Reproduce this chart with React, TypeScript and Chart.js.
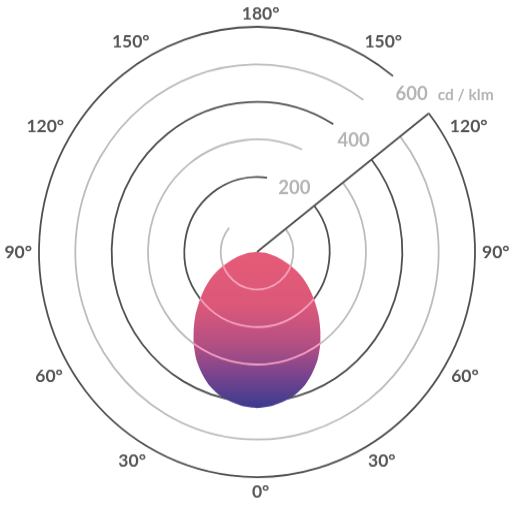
import { useEffect, useRef } from 'react';
import { Chart, registerables } from 'chart.js';

Chart.register(...registerables);

// Angles of the sampled intensity curve (degrees, 0 = straight down)
const angleCategories = [
  0, 5, 10, 15, 20, 25, 30, 35, 40, 45, 50, 55, 60, 65, 70, 75, 80, 85,
  90, 95, 100, 105, 110, 115, 120, 125, 130, 135, 140, 145, 150, 155, 160, 165, 170, 175,
  180, 185, 190, 195, 200, 205, 210, 215, 220, 225, 230, 235, 240, 245, 250, 255, 260, 265,
  270, 275, 280, 285, 290, 295, 300, 305, 310, 315, 320, 325, 330, 335, 340, 345, 350, 355,
];

// Luminous intensity (cd/klm)
const intensityValues = [
  416, 413, 406, 396, 380, 358, 333, 303, 271, 240, 208, 179, 151, 121, 90, 63, 39, 18,
  0, 0, 0, 0, 0, 0, 0, 0, 0, 0, 0, 0, 0, 0, 0, 0, 0, 0,
  0, 0, 0, 0, 0, 0, 0, 0, 0, 0, 0, 0, 0, 0, 0, 0, 0, 0,
  0, 18, 39, 63, 90, 121, 151, 179, 208, 240, 271, 303, 333, 358, 380, 396, 406, 413,
];

const scaleMax = 600;
const ringValues = [100, 200, 300, 400, 500, 600];
const darkRingValues = [200, 400, 600];
const overlayRingValues = [100, 200, 300];
const scaleLabelValues = [200, 400, 600];
const unitText = 'cd / klm';
const angleTickDegrees = [0, 30, 60, 90, 120, 150, 180, 210, 240, 270, 300, 330];
const angleTickLabels = ['0°', '30°', '60°', '90°', '120°', '150°', '180°', '150°', '120°', '90°', '60°', '30°'];

const FONT = 'Lato, "Open Sans", sans-serif';
const toRad = (d: number) => (d * Math.PI) / 180;
const WEDGE_FROM_TOP = 52; // clockwise from top, degrees

function ringGap(rr: number, R: number) {
  const d = 0.2317 * R;
  if (rr > d * 1.05) return Math.asin(d / rr);
  return toRad(102);
}

function eggGradient(chart: any) {
  const r = chart.scales && chart.scales.r;
  if (!r || !isFinite(r.yCenter)) return '#d95a7c';
  const top = r.yCenter;
  const bottom = r.yCenter + r.getDistanceFromCenterForValue(Math.max(...intensityValues));
  const g = chart.ctx.createLinearGradient(0, top, 0, bottom);
  g.addColorStop(0, '#e65b77');
  g.addColorStop(0.35, '#db5879');
  g.addColorStop(0.6, '#b24f84');
  g.addColorStop(0.8, '#76448f');
  g.addColorStop(1, '#3b3b8e');
  return g;
}

const polarDecor = {
  id: 'polarDecor',
  beforeDatasetsDraw(chart: any) {
    const r = chart.scales.r;
    const ctx: CanvasRenderingContext2D = chart.ctx;
    const cx = r.xCenter;
    const cy = r.yCenter;
    const R = r.drawingArea;
    const wedge = toRad(WEDGE_FROM_TOP - 90);
    ctx.save();
    ctx.lineCap = 'butt';
    ringValues.forEach((v) => {
      const rr = r.getDistanceFromCenterForValue(v);
      const gap = ringGap(rr, R);
      ctx.beginPath();
      ctx.arc(cx, cy, rr, wedge, wedge + Math.PI * 2 - gap, false);
      ctx.strokeStyle = darkRingValues.includes(v) ? '#505050' : '#bcbcbc';
      ctx.lineWidth = 1.8;
      ctx.stroke();
    });
    // wedge line
    ctx.beginPath();
    ctx.moveTo(cx, cy);
    ctx.lineTo(cx + R * Math.cos(wedge), cy + R * Math.sin(wedge));
    ctx.strokeStyle = '#505050';
    ctx.lineWidth = 1.8;
    ctx.stroke();

    // value labels
    ctx.fillStyle = '#b4b4b4';
    scaleLabelValues.forEach((v) => {
      const rr = r.getDistanceFromCenterForValue(v);
      const a = toRad(WEDGE_FROM_TOP - 90) - Math.asin((0.1193 * R) / rr);
      const x = cx + rr * Math.cos(a);
      const y = cy + rr * Math.sin(a);
      ctx.font = `bold 18.5px ${FONT}`;
      const txt = String(v);
      const w = ctx.measureText(txt).width;
      const cap = 0.72 * 18.5;
      ctx.textAlign = 'center';
      ctx.textBaseline = 'alphabetic';
      ctx.fillText(txt, x, y + cap / 2);
      if (v === scaleMax) {
        ctx.font = `bold 15.5px ${FONT}`;
        ctx.textAlign = 'left';
        ctx.fillText(unitText, x + w / 2 + 10, y + cap / 2);
      }
    });

    // angle labels
    ctx.fillStyle = '#555555';
    const size = 17.5;
    ctx.font = `bold ${size}px ${FONT}`;
    const cap = 0.72 * size;
    angleTickDegrees.forEach((deg, i) => {
      const txt = angleTickLabels[i];
      const w = ctx.measureText(txt).width;
      const numW = ctx.measureText(txt.replace('°', '')).width;
      let phi = toRad(90 + deg);
      // nudge labels near the vertical axis slightly outward
      const s = Math.sin(toRad(deg));
      if (Math.abs(s) > 0.2 && Math.abs(s) < 0.6) {
        const towardHorizontal = Math.cos(toRad(deg)) > 0 ? 1 : -1;
        phi += toRad(1.7) * (s > 0 ? towardHorizontal : -towardHorizontal);
      }
      const dx = Math.cos(phi);
      const dy = Math.sin(phi);
      const dist = R + 7 + Math.abs(dx) * (w / 2) + Math.abs(dy) * (cap / 2);
      let x = cx + dist * dx;
      const y = cy + dist * dy;
      if (Math.abs(dx) < 0.01) x += (w - numW) / 2;
      ctx.textAlign = 'center';
      ctx.textBaseline = 'alphabetic';
      ctx.fillText(txt, x, y + cap / 2);
    });
    ctx.restore();
  },
  afterDatasetsDraw(chart: any) {
    const meta = chart.getDatasetMeta(0);
    const line: any = meta && meta.dataset;
    if (!line) return;
    const r = chart.scales.r;
    const ctx: CanvasRenderingContext2D = chart.ctx;
    const R = r.drawingArea;
    const wedge = toRad(WEDGE_FROM_TOP - 90);
    ctx.save();
    ctx.beginPath();
    line.path(ctx);
    ctx.closePath();
    ctx.clip();
    ctx.strokeStyle = '#f6a0c0';
    ctx.lineWidth = 1.8;
    overlayRingValues.forEach((v) => {
      const rr = r.getDistanceFromCenterForValue(v);
      ctx.beginPath();
      ctx.arc(r.xCenter, r.yCenter, rr, wedge, wedge + Math.PI * 2 - ringGap(rr, R), false);
      ctx.stroke();
    });
    ctx.restore();
  },
};

export default function App() {
  const ref = useRef<HTMLCanvasElement>(null);
  useEffect(() => {
    const canvas = ref.current;
    if (!canvas) return;
    const chart = new Chart(canvas, {
      type: 'radar',
      data: {
        labels: angleCategories.map((a) => `${a}°`),
        datasets: [
          {
            data: intensityValues,
            fill: 'origin',
            backgroundColor: (c: any) => eggGradient(c.chart),
            borderWidth: 0,
            borderColor: 'rgba(0,0,0,0)',
            pointRadius: 0,
            pointHoverRadius: 0,
            tension: 0.25,
          } as any,
        ],
      },
      options: {
        responsive: false,
        animation: false,
        devicePixelRatio: 1,
        events: [],
        layout: { padding: { left: 39, right: 40, top: 26, bottom: 30 } },
        plugins: { legend: { display: false }, tooltip: { enabled: false } },
        scales: {
          r: {
            min: 0,
            max: scaleMax,
            startAngle: 180,
            grid: { display: false, circular: true },
            angleLines: { display: false },
            ticks: { display: false },
            pointLabels: { display: false },
          },
        },
      } as any,
      plugins: [polarDecor],
    });
    return () => chart.destroy();
  }, []);
  return (
    <div style={{ position: 'absolute', left: 0, top: 0, width: 515, height: 508, background: '#fff' }}>
      <canvas ref={ref} width={515} height={492} style={{ width: '515px', height: '508px', display: 'block' }} />
    </div>
  );
}
